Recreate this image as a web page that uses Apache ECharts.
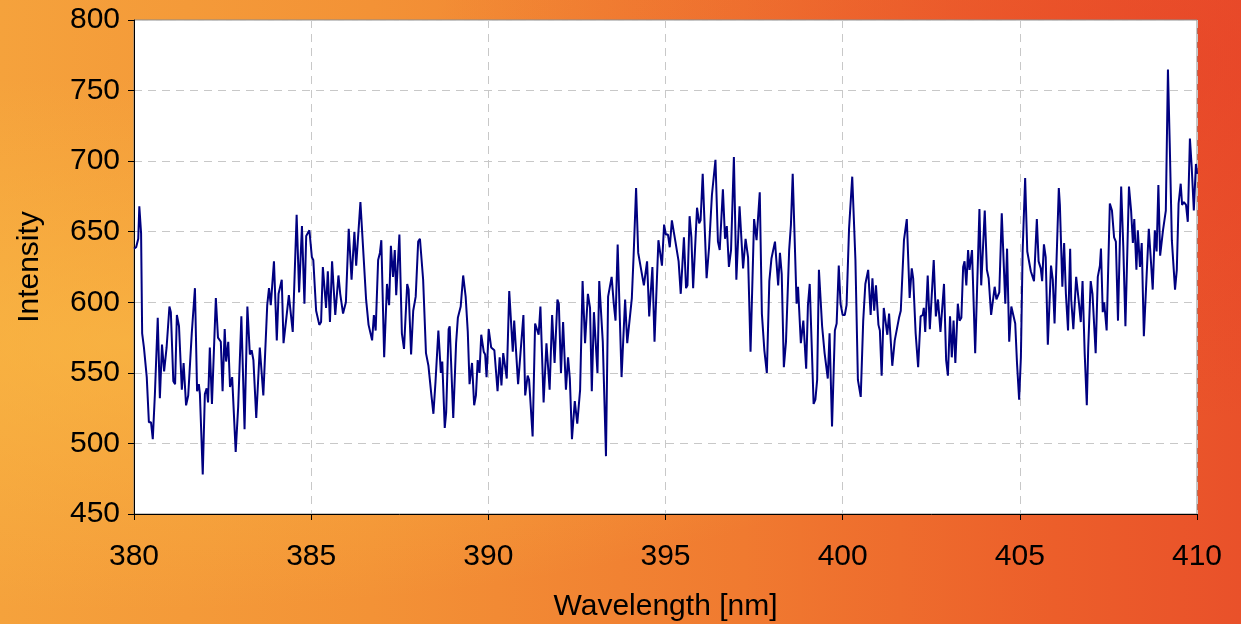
<!DOCTYPE HTML>
<html>
<head>
<meta charset="utf-8">
<title>spectrum</title>
<style>
html,body{margin:0;padding:0;width:1241px;height:624px;overflow:hidden;}
body{
background:
 radial-gradient(ellipse at 10% 55%, rgba(250,190,70,0.6), rgba(250,190,70,0) 55%),
 radial-gradient(ellipse at 95% 10%, rgba(230,60,40,0.45), rgba(230,60,40,0) 45%),
 linear-gradient(90deg,#f5a23c 0%,#f39236 30%,#f07a30 60%,#ec5e2a 85%,#e9512a 100%);
}
#container{width:1241px;height:624px;}
</style>
</head>
<body>
<div id="container"></div>
<script src="https://cdn.jsdelivr.net/npm/echarts@6/dist/echarts.min.js"></script>
<script>
// wavelength in nm
var wavelength = [
380.00,380.06,380.12,380.15,380.20,380.23,380.28,380.36,380.42,380.48,380.53,380.59,380.67,380.73,380.79,380.85,380.92,381.00,381.04,381.11,
381.16,381.21,381.27,381.35,381.40,381.47,381.53,381.63,381.67,381.72,381.78,381.83,381.86,381.94,382.00,382.05,382.09,382.14,382.20,382.31,
382.37,382.45,382.50,382.56,382.60,382.66,382.71,382.77,382.87,382.94,382.98,383.03,383.12,383.20,383.27,383.32,383.37,383.45,383.55,383.65,
383.76,383.81,383.86,383.95,384.03,384.08,384.17,384.22,384.30,384.37,384.42,384.48,384.59,384.66,384.74,384.81,384.86,
384.95,385.02,385.06,385.14,385.23,385.28,385.33,385.42,385.47,385.53,385.59,385.68,385.77,385.82,385.90,385.98,386.06,386.14,386.22,386.27,
386.39,386.43,386.55,386.62,386.72,386.77,386.82,386.89,386.94,386.98,387.06,387.14,387.20,387.25,387.31,387.36,
387.40,387.49,387.56,387.62,387.71,387.75,387.82,387.88,387.95,388.02,388.07,388.16,388.24,388.31,388.35,388.39,388.45,388.51,388.59,388.66,
388.70,388.77,388.81,388.88,388.91,389.01,389.09,389.14,389.22,389.29,389.36,389.42,389.47,389.54,389.60,389.65,389.70,389.75,389.80,
389.87,389.91,389.95,390.01,390.08,390.17,390.26,390.32,390.37,390.42,390.52,390.59,390.69,390.73,390.84,390.99,391.04,391.11,391.15,391.25,
391.32,391.37,391.42,391.47,391.56,391.64,391.68,391.73,391.80,391.87,391.95,391.99,392.05,392.11,392.19,392.25,392.30,
392.36,392.44,392.51,392.59,392.66,392.73,392.81,392.87,392.92,392.98,393.08,393.13,393.23,393.32,393.38,393.48,393.54,393.59,393.65,393.76,
393.86,393.92,393.96,394.05,394.10,394.17,394.23,394.28,394.39,394.48,394.54,394.63,394.69,394.80,
394.90,394.96,395.01,395.07,395.12,395.18,395.28,395.37,395.43,395.52,395.58,395.62,395.68,395.73,395.78,395.89,395.95,395.99,396.05,396.16,
396.23,396.31,396.41,396.48,396.53,396.62,396.68,396.73,396.79,396.85,396.93,397.00,397.09,397.19,397.26,
397.33,397.40,397.50,397.57,397.66,397.72,397.79,397.86,397.93,397.99,398.02,398.09,398.13,398.18,398.23,398.28,398.34,398.40,398.44,398.49,
398.54,398.59,398.70,398.74,398.82,398.89,398.97,399.02,399.07,399.18,399.23,399.28,399.33,399.42,399.49,399.53,399.58,399.63,399.70,399.78,399.83,
399.89,399.94,400.00,400.06,400.11,400.18,400.27,400.36,400.43,400.51,400.58,400.64,400.72,400.79,400.84,400.89,400.94,401.01,401.05,401.10,
401.16,401.21,401.26,401.31,401.40,401.47,401.51,401.59,401.64,401.73,401.81,401.89,401.95,401.99,402.06,402.13,402.20,402.26,
402.29,402.33,402.40,402.46,402.50,402.57,402.63,402.69,402.76,402.86,402.92,402.97,403.03,403.08,403.13,403.18,403.25,403.30,403.35,403.40,
403.44,403.49,403.54,403.58,403.65,403.74,403.86,403.91,404.01,404.07,404.12,404.19,404.23,404.29,404.34,404.42,404.49,404.59,404.64,404.70,404.76,
404.80,404.87,404.92,404.98,405.03,405.08,405.15,405.21,405.26,405.31,405.40,405.48,405.53,405.59,405.63,405.68,405.73,405.79,405.88,405.93,
405.98,406.10,406.13,406.20,406.25,406.30,406.36,406.42,406.45,406.51,406.59,406.67,406.72,406.77,406.83,406.89,406.93,407.00,407.05,407.14,407.20,407.26,
407.29,407.34,407.38,407.45,407.54,407.60,407.66,407.71,407.77,407.86,407.92,407.98,408.08,408.14,408.19,408.23,408.29,408.33,408.39,408.44,
408.50,408.58,408.64,408.69,408.75,408.81,408.86,408.91,408.96,409.04,409.12,409.18,409.23,409.29,409.38,409.43,409.48,409.54,409.58,409.63,
409.69,409.74,409.80,409.85,409.91,409.97,410.00
];

// intensity, same order
var intensity = [
638,639,645,668,649,578,568,547,515,515,503,535,589,532,570,551,568,597,593,544,
542,591,583,538,557,527,534,578,578,610,537,542,535,478,535,539,529,568,528,603,
575,572,537,581,558,572,540,547,494,526,527,590,510,597,563,566,559,518,568,534,
598,610,598,629,573,606,616,571,589,605,605,579,662,607,654,599,647,
651,632,630,594,584,586,625,596,622,586,629,591,619,606,592,600,652,616,650,626,
671,670,602,584,573,591,580,630,635,644,561,613,598,640,618,637,
605,648,578,567,613,609,563,594,604,643,645,616,564,555,554,535,521,544,580,550,
558,511,522,581,583,518,571,589,597,619,604,579,542,557,527,534,559,550,577,
565,563,547,581,568,566,537,561,541,564,546,608,565,587,542,591,534,548,545,505,
585,585,577,597,529,571,571,538,591,557,602,599,550,586,538,561,546,
503,530,514,538,615,571,606,596,537,593,550,615,572,491,604,618,599,587,641,547,
602,571,571,603,633,681,635,635,612,629,590,625,572,644,
626,655,648,648,639,658,643,629,606,646,610,612,661,646,610,667,656,658,691,617,
639,676,701,643,637,680,645,654,625,637,703,616,668,624,645,
632,565,659,644,678,592,566,550,615,631,632,643,643,612,635,620,554,572,573,637,
655,691,599,611,571,587,553,598,613,528,531,545,623,583,564,564,546,578,512,580,585,
626,599,591,591,598,652,689,630,545,533,587,613,623,591,617,594,612,584,580,548,
596,597,577,592,555,573,573,589,594,644,659,603,624,617,578,554,590,591,
596,579,619,581,581,630,590,602,579,613,559,548,590,561,587,557,599,587,589,625,
629,612,637,623,637,564,666,612,665,623,617,591,591,611,602,607,663,599,638,572,597,
597,585,557,531,561,637,688,636,637,622,615,659,629,624,615,641,632,570,626,616,
585,681,669,611,642,606,580,638,602,581,618,599,586,615,564,527,568,615,606,564,618,626,
638,593,600,580,670,665,646,643,587,682,639,583,682,665,642,659,623,651,625,642,
576,620,652,633,609,651,636,683,633,651,665,765,713,644,609,623,670,684,669,671,
669,657,716,696,665,698,691
];

var xTicks = [380, 385, 390, 395, 400, 405, 410];
var yTicks = [450, 500, 550, 600, 650, 700, 750, 800];

var points = [];
for (var i = 0; i < wavelength.length; i++) {
  points.push([wavelength[i], intensity[i]]);
}

var chart = echarts.init(document.getElementById('container'));
var option = {
  animation: false,
  textStyle: { fontFamily: 'Liberation Sans, Arial, sans-serif' },
  grid: {
    left: 134, right: 44, top: 20, bottom: 110,
    outerBoundsMode: 'none', containLabel: false,
    show: true, backgroundColor: '#ffffff', borderColor: '#8c8c8c', borderWidth: 1
  },
  xAxis: {
    type: 'value',
    min: xTicks[0], max: xTicks[xTicks.length - 1], interval: 5,
    name: 'Wavelength [nm]', nameLocation: 'middle', nameGap: 78,
    nameTextStyle: { color: '#000', fontSize: 30 },
    axisLine: { onZero: false, lineStyle: { color: '#000', width: 1 } },
    axisTick: { show: true, length: 6, lineStyle: { color: '#000' } },
    axisLabel: { color: '#000', fontSize: 30, margin: 28 },
    splitLine: { show: true, lineStyle: { color: '#c8c8c8', type: [8, 6], width: 1 } }
  },
  yAxis: {
    type: 'value',
    min: yTicks[0], max: yTicks[yTicks.length - 1], interval: 50,
    name: 'Intensity', nameLocation: 'middle', nameGap: 89,
    nameTextStyle: { color: '#000', fontSize: 30 },
    axisLine: { show: true, onZero: false, lineStyle: { color: '#000', width: 1 } },
    axisTick: { show: true, length: 6, lineStyle: { color: '#000' } },
    axisLabel: { color: '#000', fontSize: 30, margin: 14 },
    splitLine: { show: true, lineStyle: { color: '#c8c8c8', type: [8, 6], width: 1 } }
  },
  series: [{
    type: 'line',
    data: points,
    showSymbol: false,
    symbol: 'none',
    lineStyle: { color: '#000080', width: 2 }
  }]
};
chart.setOption(option);
</script>
</body>
</html>
